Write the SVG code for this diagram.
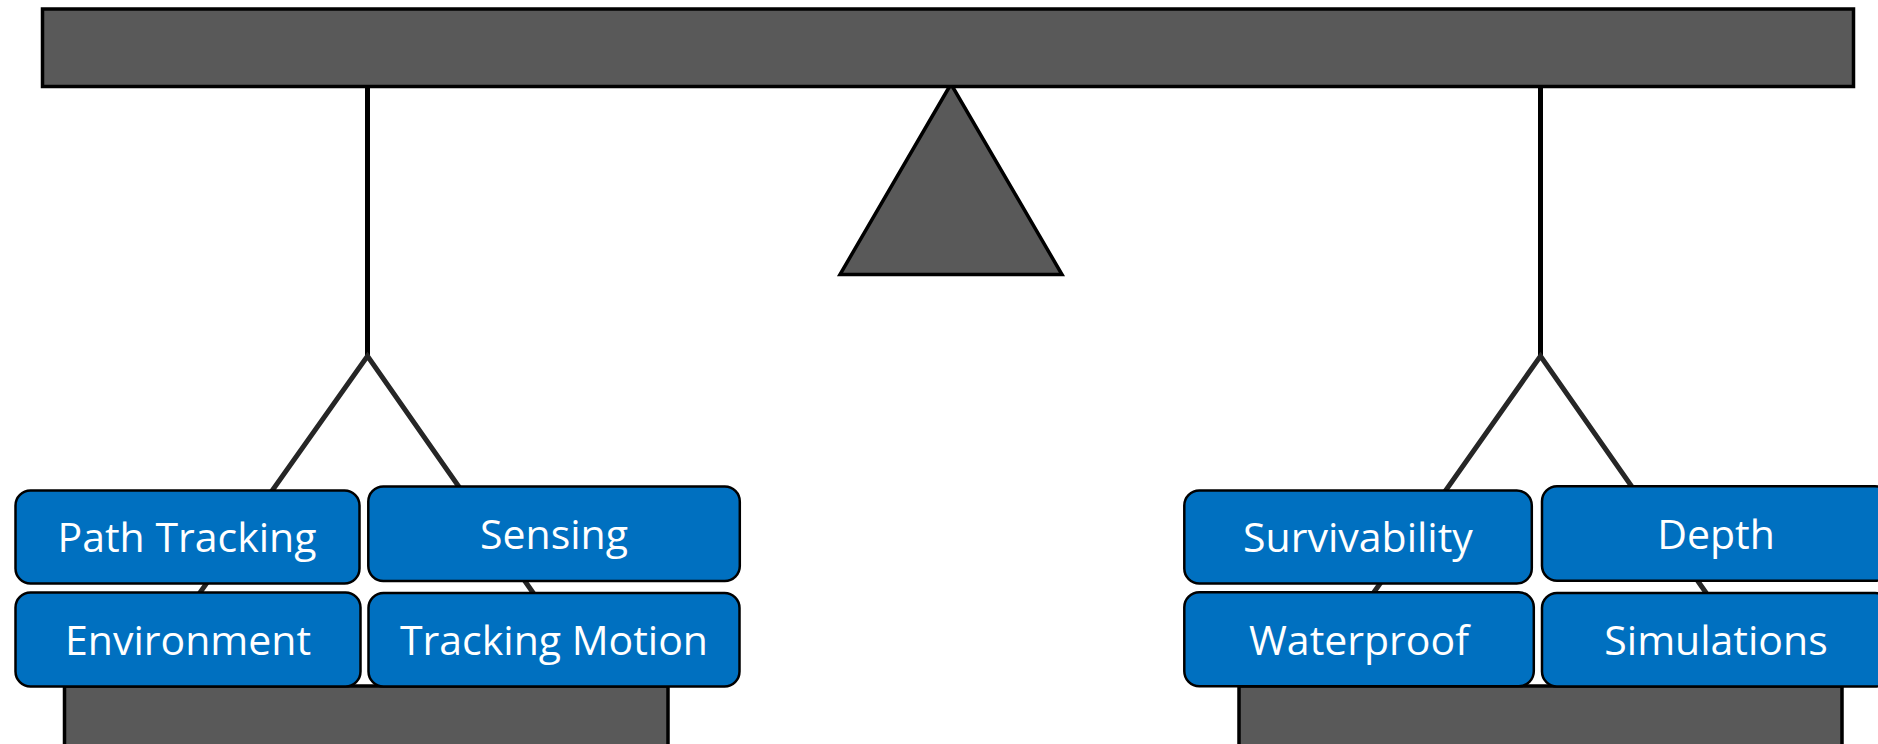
<svg xmlns="http://www.w3.org/2000/svg" width="1878" height="744" viewBox="0 0 1878 744">
<style>
.gray{fill:#595959;stroke:#000;stroke-width:3.5}
.box{fill:#0070C0;stroke:#000;stroke-width:2.5}
.lbl{fill:#fff;font-family:"Open Sans","Noto Sans",sans-serif;font-size:41px;text-anchor:middle}
.hang{stroke:#000;stroke-width:5;fill:none}
.diag{stroke:#262626;stroke-width:5;fill:none}
</style>
<rect width="1878" height="744" fill="#fff"/>
<g id="fulcrum"><polygon class="gray" points="951,84 840,274.5 1062,274.5"/></g>
<g id="beam"><rect class="gray" x="42.5" y="9" width="1811" height="77.5"/></g>
<g id="connectors">
<line class="hang" x1="367.5" y1="88" x2="367.5" y2="358"/>
<line class="hang" x1="1540.5" y1="88" x2="1540.5" y2="358"/>
<polyline class="diag" points="131,690 367.5,356 601,690"/>
<polyline class="diag" points="1305,690 1540.5,356 1774,690"/>
</g>
<g id="base-left"><rect class="gray" x="64.5" y="686" width="603.5" height="80"/></g>
<g id="base-right"><rect class="gray" x="1239" y="686" width="603" height="80"/></g>
<g id="path-tracking"><rect class="box" x="15.5" y="490.5" width="344" height="93" rx="15"/><text class="lbl" x="187" y="551.5">Path Tracking</text></g>
<g id="sensing"><rect class="box" x="368.3" y="486.5" width="371.5" height="94.5" rx="15"/><text class="lbl" x="554" y="548.8">Sensing</text></g>
<g id="environment"><rect class="box" x="15.5" y="592.5" width="345" height="94" rx="15"/><text class="lbl" x="188" y="654.5">Environment</text></g>
<g id="tracking-motion"><rect class="box" x="368.5" y="593" width="371" height="93.5" rx="15"/><text class="lbl" x="554" y="654.8">Tracking Motion</text></g>
<g id="survivability"><rect class="box" x="1184.3" y="490.5" width="347.5" height="93" rx="15"/><text class="lbl" x="1358" y="551.5">Survivability</text></g>
<g id="depth"><rect class="box" x="1542" y="486.3" width="348" height="94.5" rx="15"/><text class="lbl" x="1716" y="549">Depth</text></g>
<g id="waterproof"><rect class="box" x="1184.3" y="592.3" width="349.5" height="94" rx="15"/><text class="lbl" x="1359" y="654.5">Waterproof</text></g>
<g id="simulations"><rect class="box" x="1542" y="593" width="348" height="93.5" rx="15"/><text class="lbl" x="1716" y="654.8">Simulations</text></g>
</svg>
